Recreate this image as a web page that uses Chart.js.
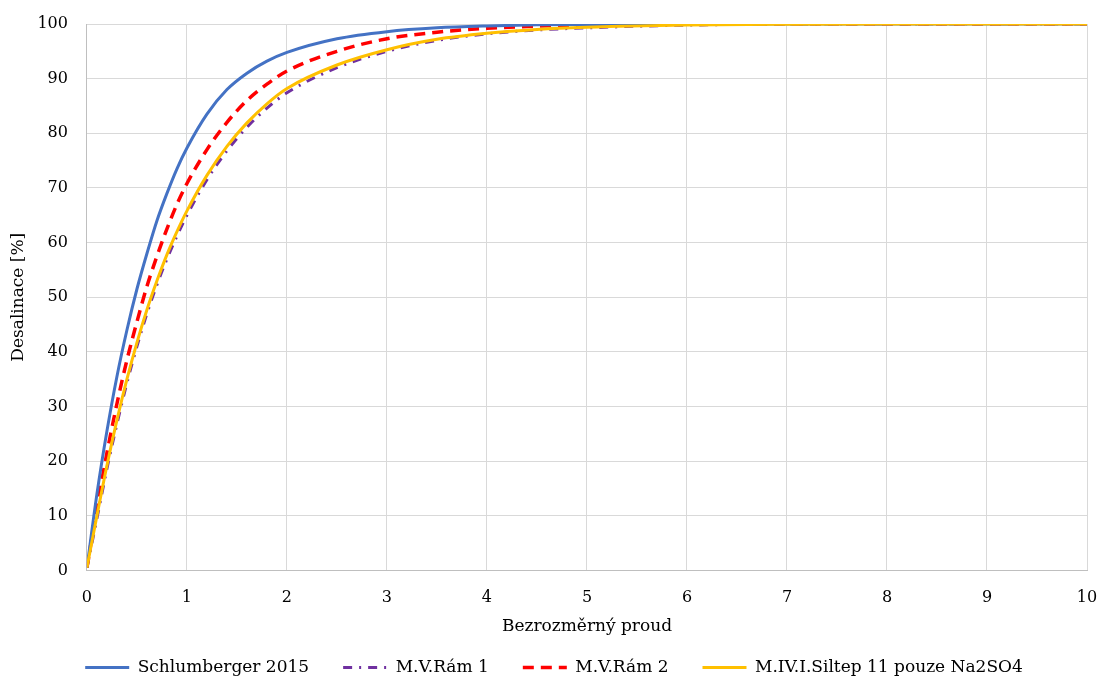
<!DOCTYPE html>
<html>
<head>
<meta charset="utf-8">
<script src="https://cdn.jsdelivr.net/npm/chart.js@4/dist/chart.umd.min.js"></script>
<style>
    html, body { margin: 0; padding: 0; background: #fff; }
    #wrap { width: 1100px; height: 677px; }
</style>
</head>
<body>
<div id="wrap"><canvas id="chart"></canvas></div>
<script>
"use strict";

// x hodnoty (bezrozmerny proud)
const proud = [0, 0.1, 0.2, 0.3, 0.4, 0.5, 0.6, 0.7, 0.8, 0.9, 1, 1.2, 1.4, 1.6, 1.8, 2, 2.5, 3, 3.5, 4, 4.5, 5, 6, 7, 8, 9, 10];

// desalinace [%] pro jednotlive serie
const schlumberger = [0.5, 14, 25.5, 35.5, 44, 51.5, 58, 64, 69, 73.5, 77.3, 83.5, 88, 91, 93.2, 94.8, 97.3, 98.6, 99.3, 99.65, 99.85, 99.93, 100, 100, 100, 100, 100];
const ram1 = [0.5, 9.5, 18.6, 26.8, 34.3, 41, 47, 52.3, 57, 61.2, 65, 71.5, 76.8, 81.1, 84.6, 87.4, 92, 95, 97, 98.2, 98.9, 99.3, 99.8, 99.95, 100, 100, 100];
const ram2 = [0.5, 11.5, 21.5, 30.5, 38.5, 45.5, 52, 57.5, 62.5, 67, 70.8, 77, 82, 86, 89, 91.4, 95, 97.3, 98.5, 99.2, 99.6, 99.8, 99.95, 100, 100, 100, 100];
const siltep = [0.5, 10, 19.2, 27.5, 35, 41.7, 47.7, 53, 57.8, 62, 65.8, 72.3, 77.6, 81.9, 85.4, 88.2, 92.5, 95.3, 97.2, 98.3, 99, 99.4, 99.8, 99.95, 100, 100, 100];

const seriesNames = ['Schlumberger 2015', 'M.V.Rám 1', 'M.V.Rám 2', 'M.IV.I.Siltep 11 pouze Na2SO4'];

const fontFamily = "'DejaVu Serif', 'Liberation Serif', serif";

function toPoints(values) {
    return proud.map((x, i) => ({x: x, y: values[i]}));
}

const datasets = [
    {
        label: seriesNames[0],
        data: toPoints(schlumberger),
        borderColor: '#4472C4',
        backgroundColor: '#4472C4',
        borderWidth: 3,
        order: 1
    },
    {
        label: seriesNames[1],
        data: toPoints(ram1),
        borderColor: '#7030A0',
        backgroundColor: '#7030A0',
        borderWidth: 3,
        borderDash: [9, 7, 2, 7],
        order: 3
    },
    {
        label: seriesNames[2],
        data: toPoints(ram2),
        borderColor: '#FF0000',
        backgroundColor: '#FF0000',
        borderWidth: 3.5,
        borderDash: [11, 7],
        order: 2
    },
    {
        label: seriesNames[3],
        data: toPoints(siltep),
        borderColor: '#FFC000',
        backgroundColor: '#FFC000',
        borderWidth: 3,
        order: 0
    }
].map(ds => Object.assign(ds, {
    showLine: true,
    fill: false,
    pointRadius: 0,
    pointHoverRadius: 0,
    pointStyle: 'line',
    cubicInterpolationMode: 'monotone'
}));

// legenda s carkovanim jako v grafu
function legendLabels(chart) {
    const items = Chart.defaults.plugins.legend.labels.generateLabels(chart);
    items.forEach(item => {
        const ds = chart.data.datasets[item.datasetIndex];
        item.lineDash = ds.borderDash || [];
        item.lineWidth = ds.borderWidth;
    });
    return items;
}

new Chart(document.getElementById('chart').getContext('2d'), {
    type: 'scatter',
    data: {datasets: datasets},
    options: {
        responsive: true,
        maintainAspectRatio: false,
        animation: false,
        layout: {padding: {top: 0, right: 0, left: 8, bottom: -9}},
        plugins: {
            tooltip: {enabled: false},
            legend: {
                display: true,
                position: 'bottom',
                labels: {
                    usePointStyle: true,
                    pointStyleWidth: 44,
                    boxHeight: 10,
                    padding: 34,
                    color: '#000',
                    font: {family: fontFamily, size: 17},
                    generateLabels: legendLabels,
                    sort: (a, b) => a.datasetIndex - b.datasetIndex
                }
            }
        },
        scales: {
            x: {
                type: 'linear',
                min: 0,
                max: 10,
                ticks: {stepSize: 1, color: '#000', font: {family: fontFamily, size: 16}, padding: 18},
                grid: {color: '#d9d9d9', lineWidth: 1, drawTicks: false},
                border: {color: '#bfbfbf'},
                afterFit: scale => { scale.paddingRight = 13; },
                title: {
                    display: true,
                    text: 'Bezrozměrný proud',
                    color: '#000',
                    font: {family: fontFamily, size: 17},
                    padding: {top: -9, bottom: -12}
                }
            },
            y: {
                min: 0,
                max: 100,
                ticks: {stepSize: 10, color: '#000', font: {family: fontFamily, size: 16}, padding: 19},
                grid: {color: '#d9d9d9', lineWidth: 1, drawTicks: false},
                border: {color: '#bfbfbf'},
                afterFit: scale => { scale.paddingTop = 24; },
                title: {
                    display: true,
                    text: 'Desalinace [%]',
                    color: '#000',
                    font: {family: fontFamily, size: 17},
                    padding: {top: 0, bottom: -10}
                }
            }
        }
    }
});
</script>
</body>
</html>
